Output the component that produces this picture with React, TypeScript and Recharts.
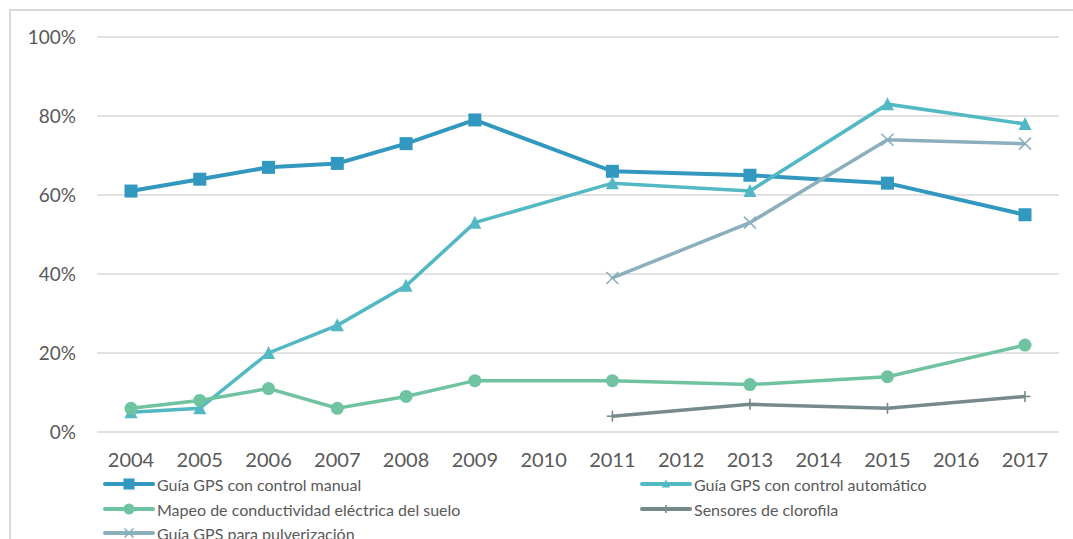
import React from 'react';
import { LineChart, Line, XAxis, YAxis, CartesianGrid } from 'recharts';

const years = ['2004', '2005', '2006', '2007', '2008', '2009', '2010', '2011', '2012', '2013', '2014', '2015', '2016', '2017'];
const manual = [61, 64, 67, 68, 73, 79, null, 66, null, 65, null, 63, null, 55];
const automatico = [5, 6, 20, 27, 37, 53, null, 63, null, 61, null, 83, null, 78];
const mapeo = [6, 8, 11, 6, 9, 13, null, 13, null, 12, null, 14, null, 22];
const sensores = [null, null, null, null, null, null, null, 4, null, 7, null, 6, null, 9];
const pulverizacion = [null, null, null, null, null, null, null, 39, null, 53, null, 74, null, 73];
const yTicks = [0, 20, 40, 60, 80, 100];

const seriesNames = {
  manual: 'Guía GPS con control manual',
  automatico: 'Guía GPS con control automático',
  mapeo: 'Mapeo de conductividad eléctrica del suelo',
  sensores: 'Sensores de clorofila',
  pulverizacion: 'Guía GPS para pulverización',
};

const data = years.map((y, i) => ({
  year: y,
  manual: manual[i],
  automatico: automatico[i],
  mapeo: mapeo[i],
  sensores: sensores[i],
  pulverizacion: pulverizacion[i],
}));

const COLORS = {
  manual: '#3398c0',
  automatico: '#52b8c3',
  mapeo: '#6fc3a1',
  sensores: '#768a8c',
  pulverizacion: '#8cafbd',
};

type Shape = 'square' | 'triangle' | 'circle' | 'plus' | 'cross';

function markerEl(shape: Shape, cx: number, cy: number, color: string, s: number, key?: any) {
  const h = s / 2;
  switch (shape) {
    case 'square':
      return <rect key={key} x={cx - h} y={cy - h} width={s} height={s} fill={color} />;
    case 'triangle':
      return <path key={key} d={`M${cx},${cy - h - 1} L${cx + h + 0.5},${cy + h} L${cx - h - 0.5},${cy + h} Z`} fill={color} />;
    case 'circle':
      return <circle key={key} cx={cx} cy={cy} r={h} fill={color} />;
    case 'plus':
      return (
        <g key={key}>
          <line x1={cx} y1={cy - h} x2={cx} y2={cy + h} stroke={color} strokeWidth={1.6} />
          <line x1={cx - h} y1={cy} x2={cx + h} y2={cy} stroke={color} strokeWidth={1.6} />
        </g>
      );
    case 'cross':
      return (
        <g key={key}>
          <line x1={cx - h} y1={cy - h} x2={cx + h} y2={cy + h} stroke={color} strokeWidth={1.6} />
          <line x1={cx - h} y1={cy + h} x2={cx + h} y2={cy - h} stroke={color} strokeWidth={1.6} />
        </g>
      );
  }
}

const makeDot = (shape: Shape, color: string, size: number) => (props: any) => {
  const { cx, cy, index, value } = props;
  if (cx == null || cy == null || value == null || Number.isNaN(cy)) return <g key={`e${index}`} />;
  return markerEl(shape, cx, cy, color, size, `d${index}`);
};

const legendItems: { key: keyof typeof COLORS; shape: Shape; size: number; left: number; top: number }[] = [
  { key: 'manual', shape: 'square', size: 11, left: 103, top: 484 },
  { key: 'automatico', shape: 'triangle', size: 7, left: 640, top: 484 },
  { key: 'mapeo', shape: 'circle', size: 11, left: 103, top: 509 },
  { key: 'sensores', shape: 'plus', size: 8, left: 640, top: 509 },
  { key: 'pulverizacion', shape: 'cross', size: 9, left: 103, top: 533 },
];

const FONT = 'Lato, "Open Sans", sans-serif';

export default function App() {
  return (
    <div style={{ position: 'absolute', left: 0, top: 0, width: 1073, height: 539, overflow: 'hidden', background: '#fff' }}>
      <div style={{ position: 'absolute', left: 9, top: 9, width: 1200, height: 700, border: '2px solid #d9d9d9' }} />
      <div style={{ position: 'absolute', left: 0, top: 0 }}>
        <LineChart width={1073} height={539} data={data} margin={{ top: 37, right: 14, left: 0, bottom: 77 }}>
          <CartesianGrid vertical={false} stroke="#d9d9d9" strokeWidth={1.5} />
          <XAxis
            dataKey="year"
            axisLine={false}
            tickLine={false}
            tickSize={0}
            tickMargin={21}
            height={30}
            interval={0}
            padding={{ left: 34, right: 34 }}
            tick={{ fill: '#595959', fontSize: 20, fontFamily: FONT }}
          />
          <YAxis
            domain={[0, 100]}
            ticks={yTicks}
            axisLine={false}
            tickLine={false}
            tickSize={0}
            tickMargin={21}
            width={97}
            tickFormatter={(v: number) => `${v}%`}
            tick={{ fill: '#595959', fontSize: 19, fontFamily: FONT }}
          />
          <Line dataKey="manual" name={seriesNames.manual} stroke={COLORS.manual} strokeWidth={4} connectNulls isAnimationActive={false}
            dot={makeDot('square', COLORS.manual, 13)} activeDot={false} />
          <Line dataKey="automatico" name={seriesNames.automatico} stroke={COLORS.automatico} strokeWidth={3.5} connectNulls isAnimationActive={false}
            dot={makeDot('triangle', COLORS.automatico, 12)} activeDot={false} />
          <Line dataKey="mapeo" name={seriesNames.mapeo} stroke={COLORS.mapeo} strokeWidth={3.5} connectNulls isAnimationActive={false}
            dot={makeDot('circle', COLORS.mapeo, 13)} activeDot={false} />
          <Line dataKey="sensores" name={seriesNames.sensores} stroke={COLORS.sensores} strokeWidth={3.5} connectNulls isAnimationActive={false}
            dot={makeDot('plus', COLORS.sensores, 11)} activeDot={false} />
          <Line dataKey="pulverizacion" name={seriesNames.pulverizacion} stroke={COLORS.pulverizacion} strokeWidth={3.5} connectNulls isAnimationActive={false}
            dot={makeDot('cross', COLORS.pulverizacion, 12)} activeDot={false} />
        </LineChart>
      </div>
      {legendItems.map((it) => (
        <div key={it.key} style={{ position: 'absolute', left: it.left, top: it.top - 12, height: 24, display: 'flex', alignItems: 'center', whiteSpace: 'nowrap' }}>
          <svg width={52} height={24} style={{ display: 'block' }}>
            <line x1={2} y1={12} x2={50} y2={12} stroke={COLORS[it.key]} strokeWidth={4} strokeLinecap="round" />
            {markerEl(it.shape, 26, 12, COLORS[it.key], it.size)}
          </svg>
          <span style={{ marginLeft: 2, fontFamily: FONT, fontSize: 16, color: '#595959' }}>{seriesNames[it.key]}</span>
        </div>
      ))}
    </div>
  );
}
